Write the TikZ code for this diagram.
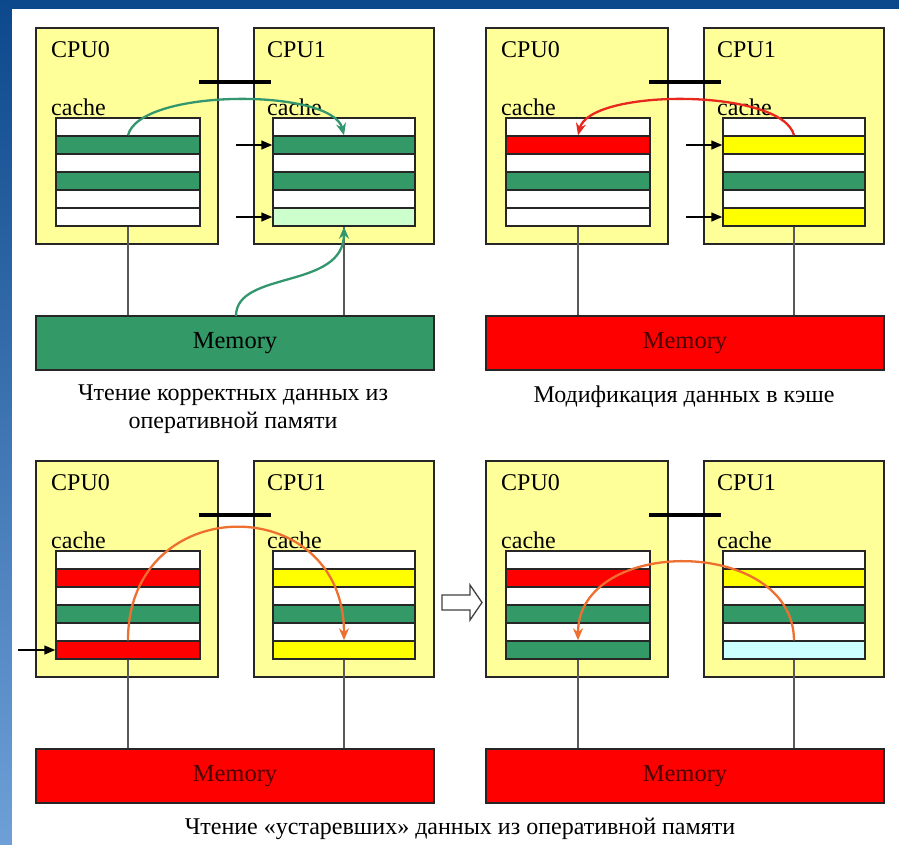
\documentclass[tikz,border=0pt]{standalone}
\usepackage{fontspec}
\setmainfont{Liberation Serif}
\usetikzlibrary{arrows.meta}
\definecolor{boxy}{RGB}{255,255,153}
\definecolor{cgreen}{RGB}{51,153,102}
\definecolor{cred}{RGB}{255,0,0}
\definecolor{cyel}{RGB}{255,255,0}
\definecolor{lgreen}{RGB}{204,255,204}
\definecolor{lcyan}{RGB}{204,255,255}
\definecolor{aorange}{RGB}{238,112,48}
\definecolor{agreen}{RGB}{51,150,110}
\definecolor{ared}{RGB}{232,40,30}
\definecolor{bgdark}{RGB}{12,72,140}
\definecolor{bglight}{RGB}{110,160,215}
\tikzset{
 cpubox/.style={draw=black!85, line width=1.5pt, fill=boxy, inner sep=0pt, minimum height=216pt},
 row/.style={draw=black!85, line width=1.5pt, inner sep=0pt, minimum width=144pt, minimum height=18pt},
 memory/.style={draw=black!85, line width=1.5pt, inner sep=0pt, minimum width=398pt, minimum height=54pt, font=\fontsize{24.5}{24.5}\selectfont},
 lbl/.style={anchor=base west, inner sep=0pt, font=\fontsize{24}{24}\selectfont},
 captxt/.style={anchor=base, inner sep=0pt, font=\fontsize{24}{24}\selectfont},
 bar/.style={line width=3.5pt, black},
 bus/.style={line width=1.5pt, black!65},
 smallarrow/.style={line width=1.5pt, black, -{Triangle[length=11pt,width=9pt]}},
 flow/.style={line width=2.3pt, -{Stealth[length=12pt,width=10pt]}},
}
\newcommand\cachepanel[6]{%
 \begin{scope}[shift={#2}]
  \node[cpubox, minimum width=182pt] (#1c0) at (127,136) {};
  \node[cpubox, minimum width=180pt] (#1c1) at (344,136) {};
  \draw[bar] (199,82) -- (271,82);
  \node[lbl] (#1t0) at (51,57) {CPU0};
  \node[lbl] (#1t1) at (267,57) {CPU1};
  \node[lbl] (#1k0) at (51,115) {cache};
  \node[lbl] (#1k1) at (267,115) {cache};
  \foreach \cc [count=\i] in {#3} {\node[row, fill=\cc] (#1a\i) at (128,109+18*\i) {};}
  \foreach \cc [count=\i] in {#4} {\node[row, fill=\cc, minimum width=142pt] (#1b\i) at (344,109+18*\i) {};}
  \node[memory, fill=#5, text=#6] (#1m) at (235,343) {Memory};
  \draw[bus] (#1a6.south) -- (#1a6.south |- #1m.north);
  \draw[bus] (#1b6.south) -- (#1b6.south |- #1m.north);
 \end{scope}}
\begin{document}
\begin{tikzpicture}[x=1pt,y=-1pt]
\useasboundingbox (0,0) rectangle (899,844);
\fill[bgdark] (0,0) rectangle (899,10);
\shade[top color=bgdark, bottom color=bglight] (0,0) rectangle (12,844);
\fill[white] (12,9) rectangle (899,844);

% panel 1
\cachepanel{p1}{(0,0)}{white,cgreen,white,cgreen,white,white}{white,cgreen,white,cgreen,white,lgreen}{cgreen}{black}
\coordinate (p1s2) at (236,145);
\coordinate (p1s6) at (236,217);
\draw[smallarrow] (p1s2) -- (p1b2.west);
\draw[smallarrow] (p1s6) -- (p1b6.west);
\draw[flow, agreen] (p1a2.north) .. controls (140,88) and (332,88) .. (p1b2.north);
\coordinate (p1ms) at (236,316);
\draw[flow, agreen] (p1ms) .. controls (236,270) and (344,290) .. (p1b6.south);
\node[captxt] (p1cap1) at (233,400) {Чтение корректных данных из};
\node[captxt] (p1cap2) at (233,428) {оперативной памяти};

% panel 2
\cachepanel{p2}{(450,0)}{white,cred,white,cgreen,white,white}{white,cyel,white,cgreen,white,cyel}{cred}{black!70!red}
\coordinate (p2s2) at (686,145);
\coordinate (p2s6) at (686,217);
\draw[smallarrow] (p2s2) -- (p2b2.west);
\draw[smallarrow] (p2s6) -- (p2b6.west);
\begin{scope}[shift={(450,0)}]
\draw[flow, ared] (p2b2.north) .. controls (332,88) and (140,88) .. (p2a2.north);
\end{scope}
\node[captxt] (p2cap) at (684,402) {Модификация данных в кэше};

% panel 3
\cachepanel{p3}{(0,433)}{white,cred,white,cgreen,white,cred}{white,cyel,white,cgreen,white,cyel}{cred}{black!70!red}
\coordinate (p3s6) at (18,650);
\draw[smallarrow] (p3s6) -- (p3a6.west);
\begin{scope}[shift={(0,433)}]
\draw[flow, aorange] (p3a6.north) .. controls (128,57) and (344,57) .. (p3b6.north);
\end{scope}

% panel 4
\cachepanel{p4}{(450,433)}{white,cred,white,cgreen,white,cgreen}{white,cyel,white,cgreen,white,lcyan}{cred}{black!70!red}
\begin{scope}[shift={(450,433)}]
\draw[flow, aorange] (p4b6.north) .. controls (343,103) and (128,103) .. (p4a6.north);
\end{scope}

% hollow arrow between bottom panels
\draw[line width=1.3pt, black!75, fill=white] (442,595) -- (470,595) -- (470,585) -- (482,602.5) -- (470,620) -- (470,610) -- (442,610) -- cycle;

\node[captxt] (p3cap) at (460,834) {Чтение «устаревших» данных из оперативной памяти};
\end{tikzpicture}
\end{document}
